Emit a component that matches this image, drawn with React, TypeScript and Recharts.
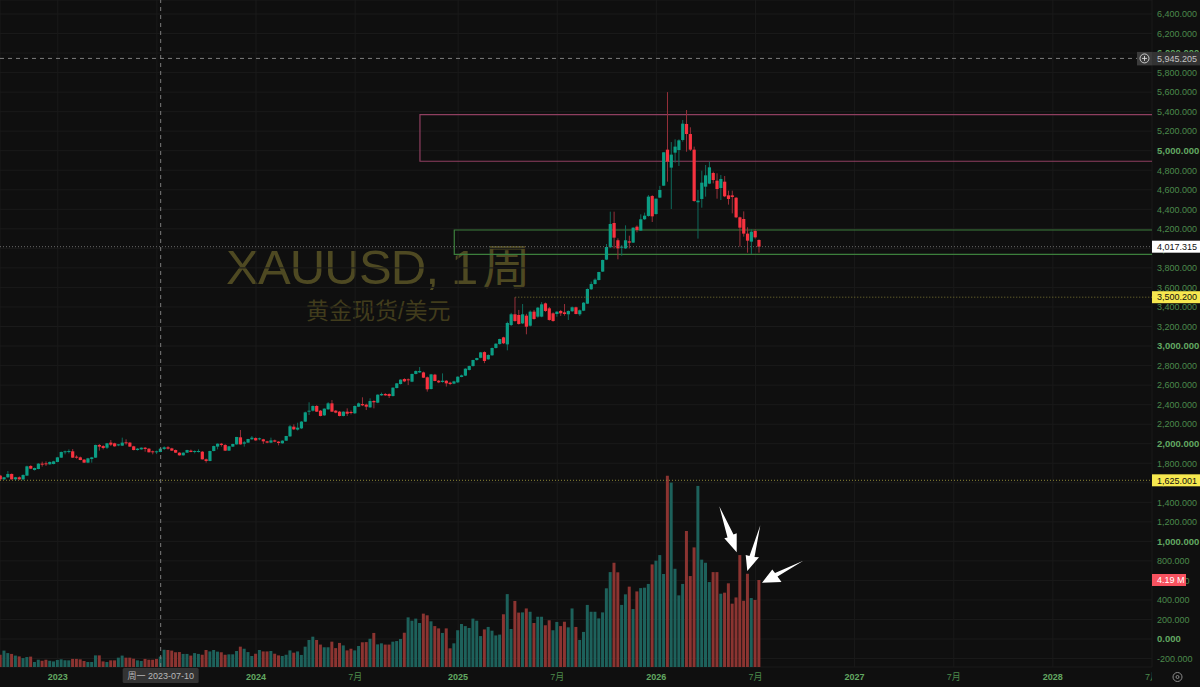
import {
  Bar,
  CartesianGrid,
  Cell,
  ComposedChart,
  ReferenceArea,
  ReferenceLine,
  XAxis,
  YAxis,
} from "recharts"

const opens = [
  1673, 1635, 1656, 1690, 1635, 1656, 1635, 1673, 1772, 1731,
  1741, 1796, 1799, 1789, 1792, 1813, 1857, 1912, 1915, 1922,
  1867, 1860, 1837, 1806, 1843, 1857, 1987, 1976, 1959, 2011,
  2004, 1983, 1980, 2014, 2011, 1973, 1935, 1942, 1959, 1949,
  1922, 1915, 1915, 1946, 1963, 1952, 1935, 1908, 1881, 1908,
  1929, 1915, 1915, 1918, 1840, 1823, 1925, 1970, 2000, 1987,
  1929, 1970, 1993, 2065, 2000, 2011, 2045, 2058, 2045, 2045,
  2024, 2011, 2034, 2021, 2004, 2031, 2075, 2174, 2144, 2157,
  2226, 2331, 2338, 2386, 2338, 2290, 2352, 2413, 2338, 2328,
  2284, 2328, 2325, 2311, 2379, 2406, 2400, 2372, 2437, 2420,
  2495, 2509, 2509, 2488, 2570, 2611, 2662, 2659, 2635, 2714,
  2730, 2730, 2680, 2560, 2707, 2645, 2632, 2645, 2625, 2615,
  2628, 2683, 2697, 2755, 2795, 2857, 2880, 2938, 2864, 2905,
  2980, 3020, 3089, 3017, 3215, 3325, 3318, 3232, 3311, 3208,
  3352, 3301, 3301, 3437, 3386, 3335, 3328, 3359, 3345, 3325,
  3356, 3397, 3325, 3362, 3434, 3581, 3635, 3676, 3762, 3885,
  4011, 4260, 4083, 4007, 4000, 4072, 4059, 4222, 4182, 4298,
  4332, 4536, 4352, 4520, 4642, 5011, 4827, 4980, 5007, 5110,
  5274, 5171, 5011, 4472, 4506, 4632, 4663, 4772, 4693, 4618,
  4683, 4543, 4543, 4519, 4318, 4301, 4151, 4069, 4178, 4086,
]

const highs = [
  1680, 1660, 1720, 1695, 1660, 1665, 1685, 1775, 1780, 1755,
  1800, 1816, 1819, 1818, 1825, 1865, 1920, 1929, 1942, 1945,
  1881, 1868, 1842, 1855, 1865, 1990, 1997, 1985, 2008, 2038,
  2010, 1995, 2062, 2045, 2016, 1978, 1955, 1962, 1966, 1955,
  1930, 1930, 1955, 1973, 1975, 1958, 1940, 1912, 1912, 1938,
  1940, 1932, 1942, 1925, 1848, 1928, 1980, 2003, 2008, 1995,
  1977, 2000, 2070, 2140, 2028, 2050, 2079, 2065, 2062, 2050,
  2030, 2062, 2042, 2026, 2035, 2080, 2192, 2198, 2215, 2232,
  2328, 2424, 2392, 2395, 2345, 2362, 2425, 2447, 2345, 2335,
  2332, 2362, 2340, 2392, 2422, 2475, 2410, 2465, 2445, 2505,
  2523, 2518, 2515, 2576, 2620, 2660, 2670, 2668, 2718, 2750,
  2785, 2738, 2688, 2715, 2715, 2652, 2720, 2650, 2635, 2645,
  2690, 2708, 2772, 2800, 2860, 2880, 2940, 2945, 2915, 2985,
  3028, 3075, 3095, 3250, 3340, 3500.2, 3370, 3430, 3330, 3365,
  3370, 3400, 3450, 3445, 3400, 3345, 3355, 3370, 3430, 3365,
  3405, 3403, 3375, 3450, 3590, 3660, 3693, 3760, 3885, 4045,
  4376, 4376, 4103, 4035, 4236, 4130, 4215, 4235, 4349, 4366,
  4546, 4545, 4510, 4640, 4985, 5600, 5089, 5117, 5117, 5315,
  5417, 5240, 5042, 4598, 4796, 4854, 4888, 4786, 4769, 4752,
  4741, 4591, 4591, 4525, 4325, 4379, 4216, 4195, 4195, 4092,
]

const lows = [
  1621, 1630, 1650, 1632, 1621, 1630, 1625, 1670, 1740, 1725,
  1738, 1765, 1772, 1785, 1788, 1810, 1855, 1891, 1901, 1855,
  1847, 1830, 1804, 1800, 1806, 1855, 1929, 1942, 1946, 1976,
  1970, 1975, 1976, 1990, 1968, 1932, 1930, 1938, 1918, 1910,
  1891, 1894, 1912, 1935, 1940, 1925, 1905, 1878, 1878, 1905,
  1912, 1901, 1910, 1838, 1806, 1820, 1922, 1942, 1970, 1926,
  1926, 1966, 1990, 1990, 1970, 2008, 2040, 2030, 2035, 1997,
  2005, 2005, 2015, 1983, 2000, 2028, 2070, 2140, 2135, 2150,
  2222, 2294, 2330, 2325, 2280, 2285, 2348, 2325, 2312, 2280,
  2280, 2284, 2300, 2305, 2375, 2385, 2345, 2368, 2362, 2415,
  2490, 2490, 2468, 2484, 2566, 2606, 2630, 2600, 2630, 2710,
  2725, 2672, 2533, 2555, 2640, 2620, 2625, 2585, 2600, 2610,
  2622, 2680, 2692, 2750, 2790, 2850, 2875, 2825, 2860, 2900,
  2975, 3015, 3020, 2956, 3205, 3250, 3220, 3225, 3120, 3200,
  3270, 3290, 3295, 3350, 3260, 3250, 3300, 3308, 3311, 3267,
  3350, 3325, 3308, 3358, 3430, 3575, 3630, 3672, 3758, 3880,
  4005, 4000, 3888, 3925, 3995, 4000, 4055, 4165, 4178, 4292,
  4325, 4270, 4345, 4515, 4640, 4683, 4403, 4878, 4844, 5093,
  4990, 4997, 4478, 4100, 4417, 4530, 4658, 4666, 4509, 4495,
  4525, 4448, 4359, 4310, 4018, 4120, 3956, 3943, 4100, 3956,
]

const closes = [
  1635, 1656, 1690, 1635, 1656, 1635, 1680, 1768, 1744, 1751,
  1796, 1785, 1789, 1813, 1819, 1860, 1915, 1922, 1925, 1857,
  1857, 1833, 1806, 1850, 1860, 1987, 1970, 1956, 2004, 1990,
  1973, 1993, 2011, 2004, 1970, 1935, 1949, 1959, 1946, 1912,
  1912, 1922, 1949, 1963, 1949, 1929, 1908, 1881, 1908, 1935,
  1915, 1925, 1925, 1840, 1823, 1925, 1976, 2000, 1987, 1929,
  1973, 1997, 2069, 1993, 2014, 2048, 2062, 2034, 2055, 2024,
  2011, 2034, 2021, 2007, 2031, 2079, 2178, 2147, 2164, 2226,
  2321, 2338, 2386, 2328, 2284, 2359, 2413, 2328, 2318, 2284,
  2328, 2307, 2314, 2386, 2413, 2393, 2379, 2437, 2424, 2502,
  2509, 2495, 2488, 2574, 2618, 2656, 2638, 2649, 2714, 2744,
  2744, 2676, 2557, 2710, 2642, 2628, 2645, 2618, 2611, 2638,
  2686, 2700, 2768, 2795, 2857, 2877, 2935, 2847, 2908, 2980,
  3024, 3072, 3028, 3236, 3325, 3256, 3226, 3325, 3198, 3352,
  3277, 3393, 3427, 3359, 3267, 3256, 3352, 3335, 3328, 3359,
  3397, 3328, 3366, 3444, 3584, 3635, 3680, 3758, 3881, 4014,
  4250, 4110, 4000, 4018, 4083, 4059, 4212, 4188, 4298, 4335,
  4530, 4328, 4509, 4598, 4984, 4888, 4960, 5042, 5106, 5277,
  5171, 5011, 4485, 4489, 4673, 4748, 4830, 4700, 4608, 4711,
  4533, 4506, 4526, 4318, 4212, 4151, 4079, 4171, 4113, 4017.315,
]

// volume in millions
const volumes = [
  0.59, 0.79, 0.67, 0.63, 0.55, 0.51, 0.43, 0.48, 0.5, 0.24,
  0.35, 0.3, 0.35, 0.3, 0.27, 0.34, 0.37, 0.32, 0.32, 0.39,
  0.39, 0.37, 0.29, 0.24, 0.24, 0.56, 0.56, 0.27, 0.24, 0.32,
  0.32, 0.45, 0.55, 0.45, 0.45, 0.4, 0.32, 0.29, 0.39, 0.35,
  0.35, 0.39, 0.5, 0.83, 0.82, 0.79, 0.71, 0.72, 0.63, 0.63,
  0.55, 0.67, 0.63, 0.59, 0.82, 0.75, 0.82, 0.74, 0.71, 0.59,
  0.61, 0.61, 0.77, 0.98, 0.88, 0.72, 0.53, 0.64, 0.82, 0.75,
  0.75, 0.77, 0.64, 0.56, 0.53, 0.59, 0.8, 0.69, 0.75, 0.58,
  0.98, 1.3, 1.46, 1.3, 1.08, 0.95, 0.95, 1.22, 0.91, 1.16,
  1.04, 0.8, 0.88, 0.8, 1.01, 1.19, 1.2, 1.36, 1.64, 1.09,
  1.14, 1.08, 1.08, 1.22, 1.25, 1.35, 1.65, 2.39, 2.23, 2.33,
  2.12, 2.57, 2.49, 2.2, 1.97, 1.86, 1.64, 1.86, 0.9, 1.14,
  1.77, 2.07, 1.97, 1.88, 2.33, 2.23, 1.49, 1.81, 1.93, 1.75,
  1.52, 1.56, 2.54, 3.51, 1.83, 3.18, 2.62, 2.63, 2.82, 2.66,
  2.12, 2.42, 2.42, 2.01, 2.25, 1.77, 2.17, 1.97, 2.18, 1.91,
  2.82, 1.93, 1.3, 1.69, 2.99, 2.66, 2.66, 2.34, 2.63, 3.79,
  4.57, 5.02, 4.56, 2.99, 3.5, 3.87, 2.79, 3.64, 3.8, 3.82,
  4.0, 4.94, 5.12, 5.39, 4.48, 9.21, 8.88, 4.73, 3.45, 4.0,
  6.55, 4.38, 5.76, 8.72, 5.17, 5.02, 4.09, 4.57, 4.57, 3.53,
  3.58, 4.03, 3.05, 3.35, 5.39, 3.19, 4.49, 3.32, 3.23, 4.19,
]

// u = up week, d = down week, one letter per volume bar
const volumeDirs = [
  "duududuudu", "udduuuuuud", "ddduuuddud", "duuddduudd", "dduudddduu",
  "duudduuudd", "uuuduuudud", "dudduuuduu", "uuudduuddd", "udduuddudu",
  "udduuuduuu", "uddudduddu", "uuuuuuuduu", "uuduuddudu", "duudduuddu",
  "uduuuuuuuu", "udduududuu", "uduuuduuuu", "ddduuuuddu", "dddddddudd",
].join("")

const priceTicks = [
  6400, 6200, 6000, 5800, 5600, 5400, 5200, 5000, 4800, 4600, 4400, 4200, 4000, 3800, 3600, 3400, 3200,
  3000, 2800, 2600, 2400, 2200, 2000, 1800, 1600, 1400, 1200, 1000, 800, 600, 400, 200, 0, -200,
]
const boldPrices = [6000, 5000, 4000, 3000, 2000, 1000, 0]

// week index of each time label, counted from the first visible candle
const timeTicks = [15, 41, 67, 93, 120, 146, 172, 198, 224, 250, 276, 302]
const timeLabels = ["2023", "7月", "2024", "7月", "2025", "7月", "2026", "7月", "2027", "7月", "2028", "7月"]

const chartData = opens.map((open, i) => ({
  week: i,
  open,
  high: highs[i],
  low: lows[i],
  close: closes[i],
  range: [lows[i], highs[i]],
  volume: volumes[i],
}))

const UP = "#0b9d84"
const DOWN = "#f7323f"
const UP_WICK = "#0f6a5c"
const DOWN_WICK = "#96303a"
const VOL_UP = "#1d615b"
const VOL_DOWN = "#8b3431"
const BG = "#0f0f0f"
const AXIS_GREEN = "#4c8a4c"
const AXIS_GREEN_BOLD = "#62a862"
const FONT = "'Liberation Sans', Arial, sans-serif"
const CJK_FONT = "'Liberation Sans', 'Noto Sans CJK SC', sans-serif"

const X_DOMAIN = [-0.144, 302]
const PRICE_DOMAIN = [-286.7, 6543.4]
const VOLUME_DOMAIN = [0, 32.12]

function Candle(props: any) {
  const { x, y, width, height, payload } = props
  const { open, close, high, low } = payload
  const perPrice = height / (high - low)
  const isUp = close >= open
  const top = y + (high - Math.max(open, close)) * perPrice
  const bodyHeight = Math.max(Math.abs(close - open) * perPrice, 1)
  const cx = x + width / 2
  return (
    <g>
      <rect x={cx - 0.5} y={y} width={1} height={height} fill={isUp ? UP_WICK : DOWN_WICK} />
      <rect x={x} y={top} width={width} height={bodyHeight} fill={isUp ? UP : DOWN} />
    </g>
  )
}

function PriceTick({ x, y, payload }: any) {
  const bold = boldPrices.includes(payload.value)
  const text = payload.value.toLocaleString("en-US", { minimumFractionDigits: 3, maximumFractionDigits: 3 })
  return (
    <text
      x={x - 3}
      y={y + 3.3}
      fontFamily={FONT}
      fontSize={bold ? 9.5 : 9}
      fontWeight={bold ? 700 : 400}
      fill={bold ? AXIS_GREEN_BOLD : AXIS_GREEN}
    >
      {text}
    </text>
  )
}

function TimeTick({ x, y, payload }: any) {
  const label = timeLabels[timeTicks.indexOf(payload.value)]
  const isYear = label.length === 4
  return (
    <text
      x={x}
      y={y + 5}
      textAnchor="middle"
      clipPath="url(#time-clip)"
      fontFamily={CJK_FONT}
      fontSize={9}
      fontWeight={isYear ? 700 : 400}
      fill={isYear ? AXIS_GREEN_BOLD : AXIS_GREEN}
    >
      {label}
    </text>
  )
}

// tag on the price scale, drawn as the label of a reference line
const priceTag = (text: string, fill: string, color: string, tagWidth = 48, tagHeight = 12) => (props: any) => {
  const y = props.viewBox.y
  return (
    <g>
      <rect x={1152} y={y - tagHeight / 2} width={tagWidth} height={tagHeight} fill={fill} />
      <text x={1157} y={y + 3.3} fontFamily={FONT} fontSize={9} fill={color}>
        {text}
      </text>
    </g>
  )
}

const crosshairTag = (props: any) => {
  const y = props.viewBox.y
  return (
    <g>
      <rect x={1137} y={y - 6.5} width={15} height={13.5} fill="#3b3b3b" />
      <rect x={1152} y={y - 6.5} width={48} height={13.5} fill="#333333" />
      <circle cx={1144.5} cy={y} r={4.5} fill="none" stroke="#d8d8d8" strokeWidth={0.9} />
      <path d={`M1142 ${y}h5M1144.5 ${y - 2.5}v5`} stroke="#d8d8d8" strokeWidth={0.9} />
      <text x={1157} y={y + 3.3} fontFamily={FONT} fontSize={9} fill="#c4c4c4">
        5,945.205
      </text>
    </g>
  )
}

const dateTag = (props: any) => {
  const x = props.viewBox.x
  return (
    <g>
      <rect x={x - 38} y={668} width={76} height={15} rx={1.5} fill="#333333" />
      <text x={x} y={679} textAnchor="middle" fontFamily={CJK_FONT} fontSize={9} fill="#b8b8b8">
        周一 2023-07-10
      </text>
    </g>
  )
}

export default function App() {
  return (
    <div style={{ position: "fixed", left: 0, top: 0, width: 1200, height: 687, overflow: "hidden", background: BG }}>
      <div style={{ position: "absolute", left: 226, top: 239, fontFamily: CJK_FONT, fontSize: 49, lineHeight: "56px", letterSpacing: -0.8, color: "#4e4922", whiteSpace: "nowrap" }}>
        XAUUSD, 1<span style={{ marginLeft: 5, fontSize: 48 }}>周</span>
      </div>
      <div style={{ position: "absolute", left: 306, top: 297, fontFamily: CJK_FONT, fontSize: 23, lineHeight: "28px", color: "#413c1c", whiteSpace: "nowrap" }}>
        黄金现货/美元
      </div>

      <ComposedChart
        width={1200}
        height={687}
        data={chartData}
        margin={{ top: 0, right: 0, bottom: 0, left: 0 }}
        style={{ position: "absolute", left: 0, top: 0 }}
      >
        <defs>
          <clipPath id="time-clip">
            <rect x={0} y={660} width={1152} height={27} />
          </clipPath>
        </defs>
        <CartesianGrid stroke="#1a1a1a" strokeWidth={1} yAxisId="price" />
        <XAxis
          type="number"
          dataKey="week"
          domain={X_DOMAIN}
          allowDataOverflow
          ticks={timeTicks}
          interval={0}
          height={20}
          axisLine={false}
          tickLine={false}
          tick={<TimeTick />}
        />
        <XAxis xAxisId="vol" type="number" dataKey="week" domain={X_DOMAIN} allowDataOverflow hide />
        <YAxis
          yAxisId="price"
          orientation="right"
          width={48}
          domain={PRICE_DOMAIN}
          allowDataOverflow
          ticks={priceTicks}
          interval={0}
          axisLine={false}
          tickLine={false}
          tick={<PriceTick />}
        />
        <YAxis yAxisId="volume" domain={VOLUME_DOMAIN} allowDataOverflow hide />

        <Bar xAxisId="vol" yAxisId="volume" dataKey="volume" barSize={3} isAnimationActive={false}>
          {chartData.map((row, i) => (
            <Cell key={row.week} fill={volumeDirs[i] === "u" ? VOL_UP : VOL_DOWN} />
          ))}
        </Bar>
        <Bar yAxisId="price" dataKey="range" barSize={3.2} shape={<Candle />} isAnimationActive={false} />

        {/* the boxes run on past the right edge, so their right side is not seen */}
        <ReferenceArea yAxisId="price" x1={110} x2={310} y1={5369} y2={4892} ifOverflow="hidden" fill="none" stroke="#8f3f60" strokeWidth={1.2} />
        <ReferenceArea yAxisId="price" x1={119} x2={310} y1={4188} y2={3939} ifOverflow="hidden" fill="none" stroke="#3c7f3c" strokeWidth={1.2} />
      </ComposedChart>

      {/* second layer with the same scales, so the tags sit on top of the axis text */}
      <ComposedChart
        width={1200}
        height={687}
        data={chartData}
        margin={{ top: 0, right: 48, bottom: 20, left: 0 }}
        style={{ position: "absolute", left: 0, top: 0 }}
      >
        <XAxis type="number" dataKey="week" domain={X_DOMAIN} allowDataOverflow hide />
        <YAxis yAxisId="price" domain={PRICE_DOMAIN} allowDataOverflow hide />
        <YAxis yAxisId="volume" domain={VOLUME_DOMAIN} allowDataOverflow hide />
        <ReferenceLine yAxisId="price" y={4017.315} stroke="#6a6a6a" strokeDasharray="1 2" label={priceTag("4,017.315", "#ffffff", "#111111")} />
        <ReferenceLine
          yAxisId="price"
          segment={[{ x: 135, y: 3500.2 }, { x: 302, y: 3500.2 }]}
          stroke="#7d7733"
          strokeDasharray="1 2"
          label={priceTag("3,500.200", "#f6e84f", "#111111")}
        />
        <ReferenceLine yAxisId="price" y={1625.001} stroke="#8d8636" strokeDasharray="1 2" label={priceTag("1,625.001", "#f6e84f", "#111111")} />
        <ReferenceLine yAxisId="volume" y={4.19} stroke="none" label={priceTag("4.19 M", "#f7525f", "#ffffff", 34)} />
        <ReferenceLine yAxisId="price" y={5945.205} stroke="#7d7d7d" strokeDasharray="4 4" label={crosshairTag} />
        <ReferenceLine yAxisId="price" x={42} stroke="#7d7d7d" strokeDasharray="4 4" label={dateTag} />
      </ComposedChart>

      {/* hand drawn arrows and the settings button, not part of the chart itself */}
      <svg width={1200} height={687} style={{ position: "absolute", left: 0, top: 0, pointerEvents: "none" }}>
        <polygon points="719.3,506.3 733.5,534.5 736.7,533.3 736.7,552.3 724.3,538.3 727.5,537.5" fill="#ffffff" />
        <polygon points="760.3,525.3 754.5,557 759,557.3 747.3,571 745.7,555 749.5,556" fill="#ffffff" />
        <polygon points="803.3,560.7 777.5,576.5 781.5,582 762,582.7 772.3,569.5 775,573" fill="#ffffff" />
        <circle cx={1177.5} cy={677} r={4.5} fill="none" stroke="#8a8a8a" strokeWidth={1} />
        <circle cx={1177.5} cy={677} r={1.5} fill="none" stroke="#8a8a8a" strokeWidth={1} />
      </svg>
    </div>
  )
}
